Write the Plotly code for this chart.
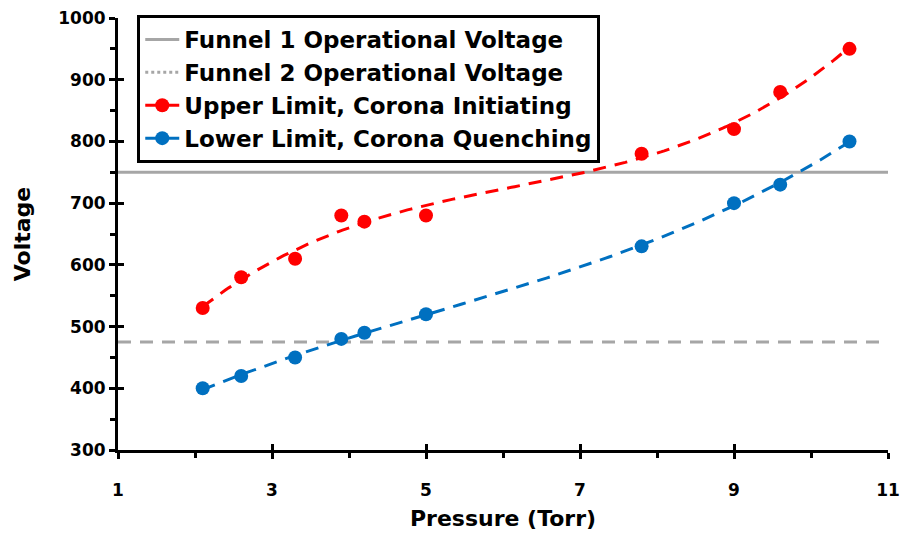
import numpy as np
import plotly.graph_objects as go

# Measured breakdown limits vs. pressure
pressure = [2.1, 2.6, 3.3, 3.9, 4.2, 5.0, 7.8, 9.0, 9.6, 10.5]
upper_limit = [530, 580, 610, 680, 670, 680, 780, 820, 880, 950]
lower_limit = [400, 420, 450, 480, 490, 520, 630, 700, 730, 800]

funnel1_voltage = 750
funnel2_voltage = 475

x_ticks = [1, 3, 5, 7, 9, 11]
y_ticks = [300, 400, 500, 600, 700, 800, 900, 1000]

RED = "#FF0000"
BLUE = "#0070C0"
GRAY = "#A6A6A6"
FONT = "DejaVu Sans, Arial, sans-serif"

# Polynomial trendlines through the measured points
xs = np.linspace(min(pressure), max(pressure), 200)
upper_fit = np.polyval(np.polyfit(pressure, upper_limit, 3), xs)
lower_fit = np.polyval(np.polyfit(pressure, lower_limit, 3), xs)

fig = go.Figure()

# Operational voltages (horizontal reference lines spanning the plot)
fig.add_trace(go.Scatter(
    x=[1, 11.06], y=[funnel1_voltage] * 2, mode="lines",
    line=dict(color=GRAY, width=3), name="Funnel 1 Operational Voltage",
    cliponaxis=False))
fig.add_trace(go.Scatter(
    x=[1, 11.06], y=[funnel2_voltage] * 2, mode="lines",
    line=dict(color=GRAY, width=3, dash="13px,9px"),
    cliponaxis=False, showlegend=False))

# Trendlines
fig.add_trace(go.Scatter(x=xs, y=upper_fit, mode="lines",
                         line=dict(color=RED, width=3, dash="13px,9px"),
                         showlegend=False, hoverinfo="skip"))
fig.add_trace(go.Scatter(x=xs, y=lower_fit, mode="lines",
                         line=dict(color=BLUE, width=3, dash="13px,9px"),
                         showlegend=False, hoverinfo="skip"))

# Data points
fig.add_trace(go.Scatter(x=pressure, y=upper_limit, mode="markers",
                         marker=dict(color=RED, size=14), showlegend=False))
fig.add_trace(go.Scatter(x=pressure, y=lower_limit, mode="markers",
                         marker=dict(color=BLUE, size=14), showlegend=False))

# Legend entries
fig.add_trace(go.Scatter(x=[None], y=[None], mode="lines",
                         line=dict(color=GRAY, width=3, dash="dot"),
                         name="Funnel 2 Operational Voltage"))
fig.add_trace(go.Scatter(x=[None], y=[None], mode="lines+markers",
                         line=dict(color=RED, width=3), marker=dict(color=RED, size=14),
                         name="Upper Limit, Corona Initiating"))
fig.add_trace(go.Scatter(x=[None], y=[None], mode="lines+markers",
                         line=dict(color=BLUE, width=3), marker=dict(color=BLUE, size=14),
                         name="Lower Limit, Corona Quenching"))

tick_font = dict(family=FONT, size=17, color="black", weight="bold")
title_font = dict(family=FONT, size=22, color="black", weight="bold")

fig.update_layout(
    width=904, height=533,
    margin=dict(l=118, r=16, t=18, b=83),
    plot_bgcolor="white", paper_bgcolor="white",
    font=dict(family=FONT, size=17, color="black"),
    showlegend=True,
    legend=dict(
        x=0.025, y=1.007, xanchor="left", yanchor="top",
        bgcolor="white", bordercolor="black", borderwidth=3,
        font=dict(family=FONT, size=23, color="black", weight="bold"),
        itemwidth=34,
    ),
    xaxis=dict(
        range=[1, 11], tickvals=x_ticks, showgrid=False, zeroline=False,
        showline=True, linecolor="black", linewidth=3, automargin=False,
        ticks="outside", ticklen=6, tickwidth=3, tickcolor="black",
        minor=dict(tickvals=[2, 4, 6, 8, 10], ticks="outside", ticklen=5,
                   tickwidth=3, tickcolor="black"),
        tickfont=tick_font, ticklabelstandoff=17,
        title=dict(text="Pressure (Torr)", standoff=12, font=title_font),
    ),
    yaxis=dict(
        range=[300, 1000], tickvals=y_ticks, showgrid=False, zeroline=False,
        showline=True, linecolor="black", linewidth=3, automargin=False,
        ticks="outside", ticklen=6, tickwidth=3, tickcolor="black",
        minor=dict(tickvals=[350, 450, 550, 650, 750, 850, 950], ticks="outside",
                   ticklen=5, tickwidth=3, tickcolor="black"),
        tickfont=tick_font,
        title=dict(text="Voltage", standoff=22, font=title_font),
    ),
    # inner halves of the crossing major ticks
    xaxis2=dict(overlaying="x", range=[1, 11], tickvals=x_ticks, showticklabels=False,
                ticks="inside", ticklen=6, tickwidth=3, tickcolor="black",
                showgrid=False, zeroline=False, showline=False, automargin=False),
    yaxis2=dict(overlaying="y", range=[300, 1000], tickvals=y_ticks, showticklabels=False,
                ticks="inside", ticklen=6, tickwidth=3, tickcolor="black",
                showgrid=False, zeroline=False, showline=False, automargin=False),
)
fig.add_trace(go.Scatter(x=[None], y=[None], xaxis="x2", yaxis="y2", showlegend=False))

fig.write_html("out.html")
